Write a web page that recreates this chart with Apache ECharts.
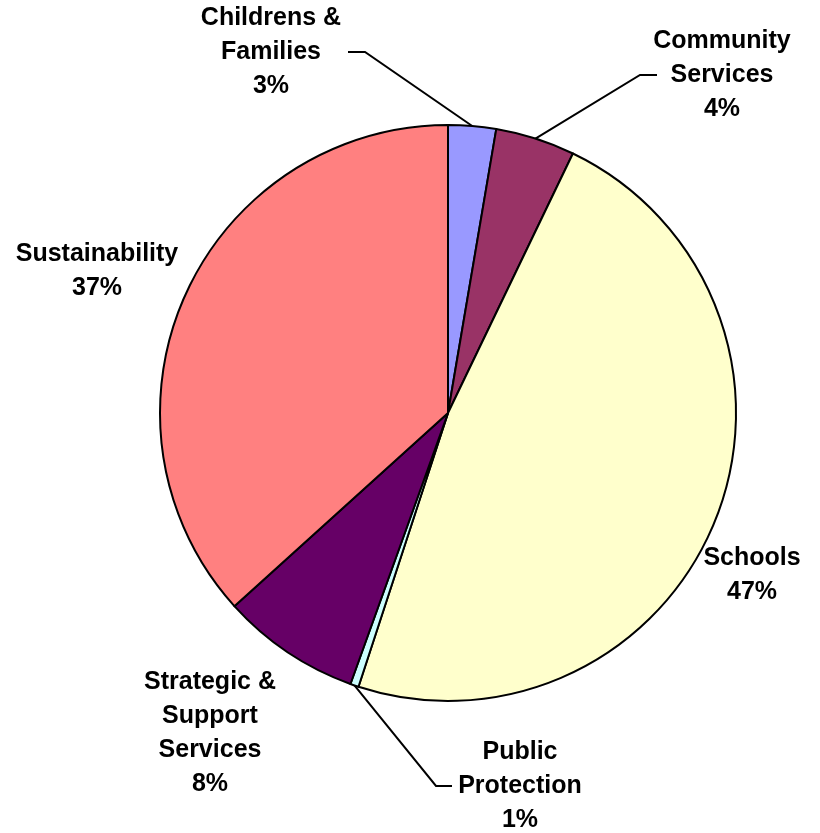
<!DOCTYPE html>
<html><head><meta charset="utf-8">
<script src="https://cdn.jsdelivr.net/npm/echarts@6/dist/echarts.min.js"></script>
<style>html,body{margin:0;padding:0;background:#fff}#c{width:820px;height:833px}</style>
</head><body><div id="c"></div>
<script>
var categories = ['Childrens &\nFamilies', 'Community\nServices', 'Schools', 'Public\nProtection', 'Strategic &\nSupport\nServices', 'Sustainability'];
// slice sizes as measured from the slice angles
var values = [2.68, 4.46, 47.89, 0.47, 7.8, 36.7];
// percentages as printed on the chart
var pctLabels = ['3%', '4%', '47%', '1%', '8%', '37%'];
var colors = ['#9999FF', '#993366', '#FFFFCC', '#CCFFFF', '#660066', '#FF8080'];

// label placement (layout only)
var labelPos = [
  {x: 271, y: 52, line: true, bend: [365, 52], end: [348, 52]},
  {x: 722, y: 75, line: true, bend: [640, 75], end: [657, 75]},
  {x: 752, y: 575, line: false},
  {x: 520, y: 786, line: true, bend: [436, 786], end: [452, 786]},
  {x: 210, y: 733, line: false},
  {x: 97, y: 271, line: false}
];

var chart = echarts.init(document.getElementById('c'), null, {renderer: 'canvas'});
chart.setOption({
  animation: false,
  series: [{
    type: 'pie',
    center: [448, 413],
    radius: 288,
    startAngle: 90,
    clockwise: true,
    avoidLabelOverlap: false,
    data: categories.map(function (c, i) {
      return {
        name: c, value: values[i],
        itemStyle: {color: colors[i]},
        labelLine: {show: labelPos[i].line}
      };
    }),
    itemStyle: {borderColor: '#000', borderWidth: 2},
    label: {
      show: true,
      position: 'outside',
      formatter: function (p) { return p.name + '\n' + pctLabels[p.dataIndex]; },
      fontFamily: 'Liberation Sans, Arial, sans-serif',
      fontWeight: 'bold',
      fontSize: 25,
      lineHeight: 34,
      color: '#000',
      align: 'center'
    },
    labelLine: {show: true, lineStyle: {color: '#000', width: 2}, length: 10, length2: 10},
    labelLayout: function (params) {
      var lp = labelPos[params.dataIndex];
      var r = {x: lp.x, y: lp.y, align: 'center', verticalAlign: 'middle'};
      if (lp.line && params.labelLinePoints) {
        r.labelLinePoints = [params.labelLinePoints[0], lp.bend, lp.end];
      }
      return r;
    },
    emphasis: {disabled: true}
  }]
});
</script>
</body></html>
